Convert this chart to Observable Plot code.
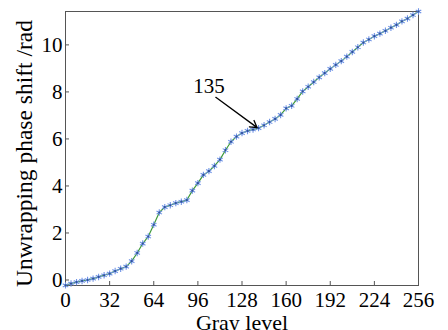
<!DOCTYPE html>
<html>
<head>
<meta charset="utf-8">
<script src="https://cdn.jsdelivr.net/npm/d3@7"></script>
<script src="https://cdn.jsdelivr.net/npm/@observablehq/plot@0.6"></script>
<style>
  html, body { margin: 0; padding: 0; background: #fff; }
  #chart svg { display: block; }
</style>
</head>
<body>
<div id="chart"></div>
<script>
// Data
const grayLevels = [0,4,8,12,16,20,24,28,32,36,40,44,48,52,56,60,64,68,72,76,80,84,88,92,96,100,104,108,112,116,120,124,128,132,136,140,144,148,152,156,160,164,168,172,176,180,184,188,192,196,200,204,208,212,216,220,224,228,232,236,240,244,248,252,256];
const phaseShift = [-0.23,-0.15,-0.09,-0.04,0.0,0.06,0.13,0.2,0.27,0.38,0.48,0.57,0.8,1.15,1.55,1.85,2.35,2.87,3.1,3.18,3.27,3.33,3.4,3.8,4.12,4.47,4.63,4.85,5.12,5.52,5.88,6.1,6.25,6.34,6.4,6.46,6.58,6.72,6.85,7.02,7.3,7.41,7.7,8.02,8.22,8.42,8.62,8.8,8.98,9.15,9.31,9.5,9.7,9.9,10.1,10.23,10.37,10.48,10.6,10.73,10.85,11.0,11.12,11.27,11.42];
const xTicks = [0,32,64,96,128,160,192,224,256];
const yTicks = [0,2,4,6,8,10];
const xLabel = "Gray level";
const yLabel = "Unwrapping phase shift /rad";
const annotationText = ["135"];
const annotationTextPos = {x: 104, y: 8.22};
const arrowFrom = {x: 109, y: 7.77};
const arrowTo = {x: 139, y: 6.48};

const data = grayLevels.map((g, i) => ({g, v: phaseShift[i]}));

const font = "'Liberation Serif', 'DejaVu Serif', serif";

const chart = Plot.plot({
  width: 448,
  height: 330,
  marginLeft: 65,
  marginRight: 30,
  marginTop: 11,
  marginBottom: 45,
  style: {fontFamily: font, fontSize: "21px", color: "#000", background: "#fff"},
  x: {domain: [0, 256], label: null},
  y: {domain: [-0.234, 11.42], label: null},
  marks: [
    Plot.frame({stroke: "#555", strokeWidth: 1}),
    Plot.axisX({ticks: xTicks, tickSize: 4, tickPadding: 3, fontSize: 21, label: null, stroke: "#555"}),
    Plot.axisY({ticks: yTicks, tickSize: 4, tickPadding: -1, fontSize: 21, stroke: "#555",
      label: yLabel, labelAnchor: "center", labelArrow: "none", labelOffset: 50}),
    Plot.line(data, {x: "g", y: "v", stroke: "#3f9a3a", strokeWidth: 1.2}),
    Plot.dot(data, {x: "g", y: "v", symbol: "asterisk", r: 3, stroke: "#6f93e6", strokeWidth: 1.1}),
    Plot.dot(data, {x: "g", y: "v", r: 1.1, fill: "#2f4f9a", stroke: null}),
    Plot.text(annotationText, {x: () => annotationTextPos.x, y: () => annotationTextPos.y, text: d => d, fontSize: 21, fill: "#000", lineAnchor: "middle"}),
    Plot.arrow([0], {x1: () => arrowFrom.x, y1: () => arrowFrom.y, x2: () => arrowTo.x, y2: () => arrowTo.y, stroke: "#000", strokeWidth: 1.3, headLength: 9}),
    Plot.text([xLabel], {frameAnchor: "bottom", text: d => d, dy: 37, fontSize: 22, fill: "#000", lineAnchor: "middle"})
  ]
});

// Make the axis ticks point inward like the reference
d3.select(chart).selectAll('g[aria-label="x-axis tick"]').each(function() {
  const t = this.getAttribute("transform") || "";
  this.setAttribute("transform", (t + " translate(0,-4)").trim());
});
d3.select(chart).selectAll('g[aria-label="y-axis tick"]').each(function() {
  const t = this.getAttribute("transform") || "";
  this.setAttribute("transform", (t + " translate(4,0)").trim());
});
// Larger axis-label font like the reference, slightly lower
d3.select(chart).selectAll('g[aria-label="y-axis label"]').each(function() {
  this.setAttribute("font-size", 23.5);
  const t = this.getAttribute("transform") || "";
  this.setAttribute("transform", (t + " translate(0,5)").trim());
});

document.getElementById("chart").appendChild(chart);
</script>
</body>
</html>
